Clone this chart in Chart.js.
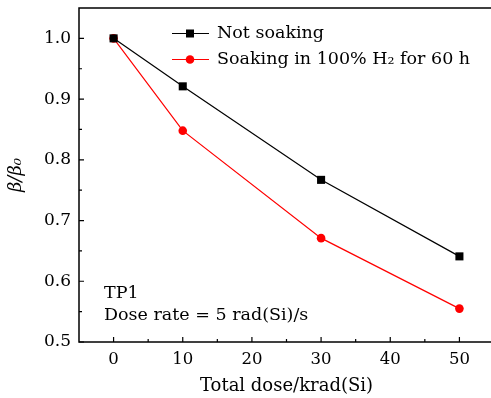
<!DOCTYPE html>
<html>
<head>
<meta charset="utf-8">
<script src="https://cdn.jsdelivr.net/npm/chart.js@4"></script>
<style>
html,body{margin:0;padding:0;background:#fff;overflow:hidden;}
#wrap{width:494px;height:398px;}
</style>
</head>
<body>
<div id="wrap"><canvas id="c" width="494" height="398"></canvas></div>
<script>
const doses = [0, 10, 30, 50];
const notSoaking = [1.0, 0.921, 0.767, 0.641];
const soakingH2 = [1.0, 0.848, 0.671, 0.555];
const seriesNames = ['Not soaking', 'Soaking in 100% H\u2082 for 60 h'];
const xTicks = [0, 10, 20, 30, 40, 50];
const xMinorTicks = [5, 15, 25, 35, 45];
const yTicks = [0.5, 0.6, 0.7, 0.8, 0.9, 1.0];
const yMinorTicks = [0.55, 0.65, 0.75, 0.85, 0.95];
const noteLines = ['TP1', 'Dose rate = 5 rad(Si)/s'];
const xTitle = 'Total dose/krad(Si)';
const yTitle = '\u03B2/\u03B2\u2080';

const FONT = "'DejaVu Serif', serif";

const frameTicks = {
  id: 'frameTicks',
  afterDatasetsDraw(chart) {
    const {ctx, chartArea: a, scales: {x, y}} = chart;
    ctx.save();
    ctx.strokeStyle = '#000';
    ctx.lineWidth = 1.5;
    ctx.strokeRect(a.left, a.top, a.right - a.left, a.bottom - a.top);
    ctx.lineWidth = 1.2;
    ctx.beginPath();
    xTicks.forEach(v => { const px = x.getPixelForValue(v); ctx.moveTo(px, a.bottom); ctx.lineTo(px, a.bottom - 5); });
    xMinorTicks.forEach(v => { const px = x.getPixelForValue(v); ctx.moveTo(px, a.bottom); ctx.lineTo(px, a.bottom - 3); });
    yTicks.forEach(v => { const py = y.getPixelForValue(v); ctx.moveTo(a.left, py); ctx.lineTo(a.left + 5, py); });
    yMinorTicks.forEach(v => { const py = y.getPixelForValue(v); ctx.moveTo(a.left, py); ctx.lineTo(a.left + 3, py); });
    ctx.stroke();
    ctx.restore();
  },
  afterDraw(chart) {
    const {ctx} = chart;
    ctx.save();
    const rows = [33.5, 59.5];
    chart.data.datasets.forEach((ds, i) => {
      const cy = rows[i];
      ctx.strokeStyle = ds.borderColor;
      ctx.lineWidth = 1.2;
      ctx.beginPath(); ctx.moveTo(172, cy); ctx.lineTo(209, cy); ctx.stroke();
      ctx.fillStyle = ds.pointBackgroundColor;
      if (ds.pointStyle === 'rect') {
        ctx.fillRect(186, cy - 4, 8, 8);
      } else {
        ctx.beginPath(); ctx.arc(190, cy, 4.3, 0, Math.PI * 2); ctx.fill();
      }
      ctx.fillStyle = '#000';
      ctx.font = '17.5px ' + FONT;
      ctx.textBaseline = 'alphabetic';
      ctx.textAlign = 'left';
      ctx.fillText(ds.label, 217, cy + 4);
    });
    ctx.font = '17.5px ' + FONT;
    ctx.fillStyle = '#000';
    ctx.fillText(noteLines[0], 104, 298);
    ctx.fillText(noteLines[1], 104, 320);
    ctx.restore();
  }
};

new Chart(document.getElementById('c'), {
  type: 'line',
  data: {
    datasets: [
      {
        label: seriesNames[0],
        data: doses.map((d, i) => ({x: d, y: notSoaking[i]})),
        borderColor: '#000000',
        backgroundColor: '#000000',
        pointBackgroundColor: '#000000',
        pointBorderColor: '#000000',
        pointStyle: 'rect',
        pointRadius: 5.7,
        borderWidth: 1.2,
        pointBorderWidth: 0,
        tension: 0
      },
      {
        label: seriesNames[1],
        data: doses.map((d, i) => ({x: d, y: soakingH2[i]})),
        borderColor: '#ff0000',
        backgroundColor: '#ff0000',
        pointBackgroundColor: '#ff0000',
        pointBorderColor: '#ff0000',
        pointStyle: 'circle',
        pointRadius: 4.3,
        borderWidth: 1.2,
        pointBorderWidth: 0,
        tension: 0
      }
    ]
  },
  options: {
    responsive: false,
    animation: false,
    layout: {autoPadding: false, padding: {top: 8, right: 0, left: 0, bottom: 0}},
    plugins: {legend: {display: false}, tooltip: {enabled: false}},
    scales: {
      x: {
        type: 'linear',
        min: -5, max: 55,
        afterBuildTicks: s => { s.ticks = xTicks.map(v => ({value: v})); },
        afterFit: s => { s.height = 56; s.paddingLeft = 0; s.paddingRight = 0; },
        grid: {display: false, drawTicks: false},
        border: {display: false},
        ticks: {color: '#000', font: {family: FONT, size: 16.5}, padding: 8, callback: v => String(v), maxRotation: 0},
        title: {display: true, text: xTitle, color: '#000', font: {family: FONT, size: 18}, padding: {top: 0, bottom: 1}}
      },
      y: {
        type: 'linear',
        min: 0.5, max: 1.05,
        afterBuildTicks: s => { s.ticks = yTicks.map(v => ({value: v})); },
        afterFit: s => { s.width = 79; s.paddingTop = 0; s.paddingBottom = 0; },
        grid: {display: false, drawTicks: false},
        border: {display: false},
        ticks: {color: '#000', font: {family: FONT, size: 17}, padding: 8, callback: v => v.toFixed(1)},
        title: {display: true, text: yTitle, color: '#000', font: {family: FONT, size: 18, style: 'italic'}, padding: {top: 6, bottom: 0}}
      }
    }
  },
  plugins: [frameTicks]
});
</script>
</body>
</html>
